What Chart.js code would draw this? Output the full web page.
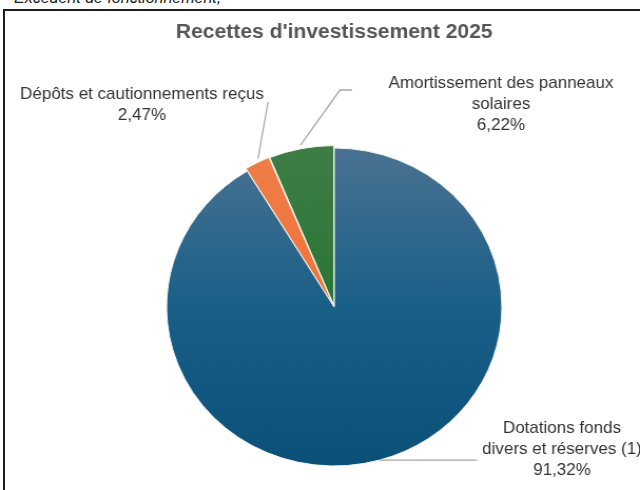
<!DOCTYPE html>
<html lang="fr">
<head>
<meta charset="utf-8">
<title>Recettes d'investissement 2025</title>
<script src="https://cdn.jsdelivr.net/npm/chart.js@4/dist/chart.umd.min.js"></script>
<style>
    html, body { margin: 0; padding: 0; background: #fff; overflow: hidden; }
    body { width: 640px; height: 490px; position: relative; font-family: 'Liberation Sans', Arial, sans-serif; }
    #frame { position: absolute; left: 3px; top: 9px; width: 700px; height: 600px; border: 2px solid #1e1e1e; }
    #above { position: absolute; left: 14px; top: -10px; font-size: 16px; line-height: 16px; font-style: italic; color: #222; white-space: nowrap; }
    #chart { position: absolute; left: 0; top: 0; }
</style>
</head>
<body>
<div id="above">Excédent de fonctionnement,</div>
<div id="frame"></div>
<canvas id="chart" width="607" height="490" style="width:640px;height:490px"></canvas>

<script>
// Chart data
const categories = ['Dotations fonds divers et réserves (1)', 'Dépôts et cautionnements reçus', 'Amortissement des panneaux solaires'];
const percents = [91.32, 2.47, 6.22];
const labelLines = [['Dotations fonds', 'divers et réserves (1)'], ['Dépôts et cautionnements reçus'], ['Amortissement des panneaux', 'solaires']];

// the source picture is stretched a little horizontally
const STRETCH = 640 / 607;
const RADIUS = 159;

// gradient stops for each slice (top -> bottom)
const sliceColors = [
    ['#4a7291', '#1a5f88', '#0a5078'],
    ['#ee7e48', '#f0733a', '#f26a26'],
    ['#3f7d47', '#2a7634', '#13701f']
];

// label placement, page pixels
const labelLayout = [
    { x: 562, y: 433, frac: 0.5, path: end => [[477, end[1]]] },
    { x: 142, y: 99, frac: 0.6, path: () => [[268, 102]] },
    { x: 501, y: 88, frac: 0.5, path: () => [[340, 90], [352, 90]] }
];

function fmtPct(v) {
    return v.toFixed(2).replace('.', ',') + '%';
}

function sliceGradient(context) {
    const i = context.dataIndex;
    const chart = context.chart;
    const area = chart.chartArea;
    if (!area) return sliceColors[i][1];
    const cy = (area.top + area.bottom) / 2;
    const g = chart.ctx.createLinearGradient(0, cy - RADIUS, 0, cy + RADIUS);
    g.addColorStop(0, sliceColors[i][0]);
    g.addColorStop(0.5, sliceColors[i][1]);
    g.addColorStop(1, sliceColors[i][2]);
    return g;
}

// draws the outside labels and leader lines
const outsideLabels = {
    id: 'outsideLabels',
    afterDraw(chart) {
        const ctx = chart.ctx;
        const arcs = chart.getDatasetMeta(0).data;
        ctx.save();
        ctx.scale(1 / STRETCH, 1);

        arcs.forEach((arc, i) => {
            const p = arc.getProps(['x', 'y', 'startAngle', 'endAngle', 'outerRadius'], true);
            const lay = labelLayout[i];
            const mid = (p.startAngle + p.endAngle) / 2;
            const off = arc.options.offset || 0;
            const a = p.startAngle + (p.endAngle - p.startAngle) * lay.frac;
            const sx = (p.x + Math.cos(mid) * off + Math.cos(a) * p.outerRadius) * STRETCH;
            const sy = p.y + Math.sin(mid) * off + Math.sin(a) * p.outerRadius;

            ctx.strokeStyle = '#a6a6a6';
            ctx.lineWidth = 1.3;
            ctx.beginPath();
            ctx.moveTo(sx, sy);
            lay.path([sx, sy]).forEach(pt => ctx.lineTo(pt[0], pt[1]));
            ctx.stroke();

            const lines = labelLines[i].concat([fmtPct(percents[i])]);
            ctx.fillStyle = '#333333';
            ctx.font = '17px "Liberation Sans", Arial, sans-serif';
            ctx.textAlign = 'center';
            ctx.textBaseline = 'alphabetic';
            lines.forEach((t, j) => ctx.fillText(t, lay.x, lay.y + j * 21));
        });
        ctx.restore();
    }
};

new Chart(document.getElementById('chart'), {
    type: 'pie',
    data: {
        labels: categories,
        datasets: [{
            data: percents,
            backgroundColor: sliceGradient,
            borderColor: '#eef3ee',
            borderWidth: 1,
            offset: [0, 6, 6]
        }]
    },
    options: {
        responsive: false,
        animation: false,
        events: [],
        radius: RADIUS,
        layout: {
            padding: { left: 27, right: 0, top: 10, bottom: 0 }
        },
        plugins: {
            legend: { display: false },
            tooltip: { enabled: false },
            title: {
                display: true,
                text: "Recettes d'investissement 2025",
                color: '#555555',
                font: { family: "'Liberation Sans', Arial, sans-serif", size: 20, weight: 'bold' },
                padding: { top: 10, bottom: 80 }
            }
        }
    },
    plugins: [outsideLabels]
});
</script>
</body>
</html>
